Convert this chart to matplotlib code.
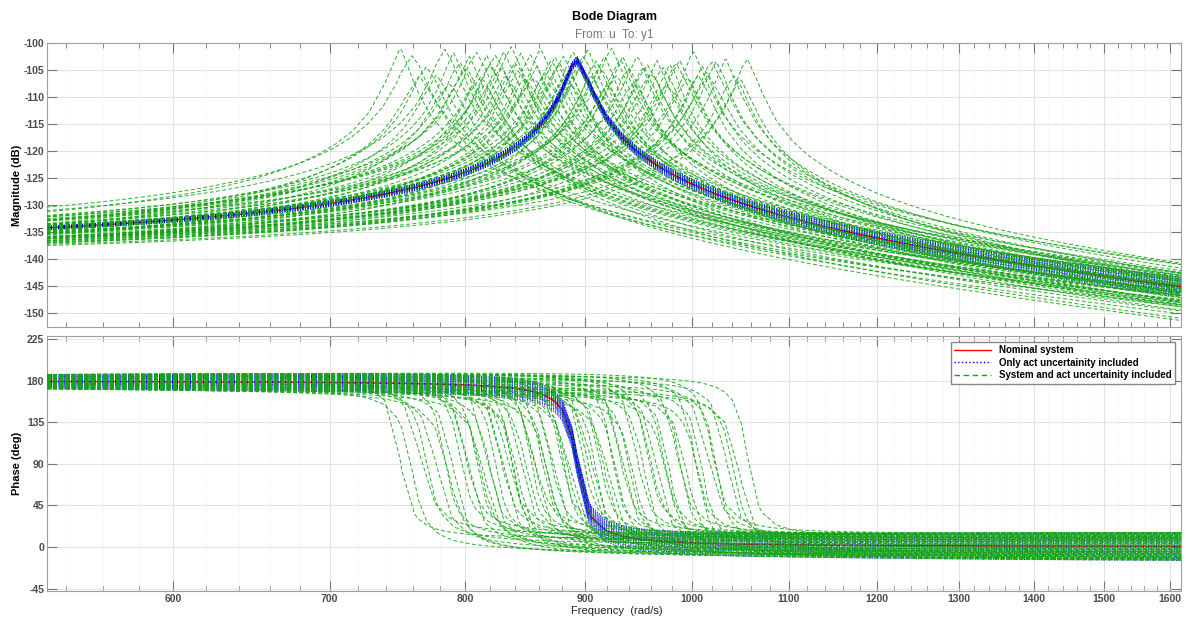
import numpy as np
import matplotlib.pyplot as plt
from matplotlib.ticker import FixedLocator, NullFormatter

plt.rcParams['font.family'] = ['Liberation Sans', 'DejaVu Sans']
plt.rcParams['axes.unicode_minus'] = False

# nominal plant: lightly damped mode seen from u to y1
nom_w0 = 893.0
nom_dc_db = -138.0
nom_peak_db = -103.2

# actuator lead/lag corner (rad/s); skew r > 1 gives lead, r < 1 gives lag
act_wc = 2000.0
act_only_r = [0.76, 0.79, 0.82, 0.85, 0.88, 0.90, 0.93, 0.95, 0.98, 1.00,
              1.02, 1.05, 1.08, 1.11, 1.14, 1.17, 1.20, 1.23, 1.27, 1.30]

# uncertain plant + actuator samples
sys_w0 = [750, 759, 770, 778, 784, 791, 796, 803, 809, 812,
          817, 820, 824, 828, 831, 837, 842, 845, 849, 853,
          858, 862, 866, 870, 874, 881, 885, 890, 895, 902,
          906, 910, 913, 917, 924, 928, 934, 940, 947, 954,
          960, 966, 972, 978, 988, 995, 1002, 1010, 1016, 1024,
          1034, 1042, 1056,
          765, 787, 800, 815, 833, 840, 855, 868, 878, 888,
          898, 921, 931, 944, 957, 975, 985, 1006, 1020, 1048]
sys_peak_db = [-101.5, -102.0, -104.5, -105.8, -101.5, -101.4, -104.2, -102.4, -102.0, -106.0,
               -102.7, -103.8, -102.4, -105.2, -101.4, -101.0, -104.6, -102.1, -106.5, -102.7,
               -104.0, -101.6, -105.5, -103.9, -102.1, -102.7, -105.0, -102.4, -104.3, -101.8,
               -106.2, -102.7, -104.8, -102.4, -101.5, -105.6, -102.7, -104.4, -103.3, -103.9,
               -106.0, -103.0, -105.1, -103.6, -103.3, -105.8, -102.4, -103.9, -106.4, -103.3,
               -103.3, -105.5, -103.6,
               -106.8, -107.0, -105.5, -107.2, -106.8, -103.0, -107.3, -106.8, -104.6, -107.0,
               -103.2, -107.1, -104.0, -106.6, -104.9, -107.0, -104.7, -105.0, -104.5, -106.0]
sys_dc_db = [-137.5, -136.0, -138.5, -139.0, -136.5, -137.0, -138.2, -137.6, -136.9, -139.3,
             -137.8, -138.0, -137.2, -139.2, -136.6, -136.8, -138.8, -137.4, -139.5, -138.0,
             -138.6, -137.0, -139.4, -138.3, -137.5, -138.1, -139.0, -137.9, -138.7, -137.6,
             -139.6, -138.2, -139.1, -138.0, -137.4, -139.5, -138.3, -139.0, -138.6, -139.0,
             -139.6, -138.5, -139.4, -138.9, -138.8, -139.7, -138.2, -139.2, -139.8, -138.9,
             -139.0, -139.7, -139.3,
             -139.4, -139.5, -138.9, -139.8, -139.6, -137.7, -139.8, -139.7, -138.8, -139.8,
             -138.0, -139.8, -138.7, -139.7, -139.3, -139.8, -139.2, -139.4, -139.2, -139.8]
sys_act_r = [1.20, 0.85, 1.05, 0.90, 1.15, 0.82, 1.22, 0.95, 1.10, 0.88,
             1.18, 0.84, 1.03, 1.24, 0.92, 1.12, 0.81, 1.07, 0.97, 1.21,
             0.86, 1.14, 0.94, 1.19, 0.83, 1.09, 0.90, 1.23, 0.87, 1.16,
             0.99, 0.82, 1.13, 0.95, 1.20, 0.86, 1.06, 0.91, 1.25, 0.84,
             1.11, 0.93, 1.17, 0.88, 1.02, 0.81, 1.22, 0.89, 1.15, 0.96,
             1.08, 0.85, 1.18,
             1.28, 0.78, 1.30, 0.77, 1.27, 0.79, 1.29, 0.76, 1.31, 0.80,
             1.26, 0.78, 1.30, 0.77, 1.28, 0.79, 1.27, 0.76, 1.29, 0.80]

freq_ticks = [600, 700, 800, 900, 1000, 1100, 1200, 1300, 1400, 1500, 1600]
mag_ticks = [-150, -145, -140, -135, -130, -125, -120, -115, -110, -105, -100]
phase_ticks = [-45, 0, 45, 90, 135, 180, 225]

w_lo, w_hi = 530, 1618
base_w = np.geomspace(520, 1650, 70)


def response(w0, dc_db, peak_db, r):
    # frequency grid refined around the resonance, like bode's adaptive grid
    w = np.union1d(base_w, w0 * (1 + 0.0147 * np.arange(-4, 5)))
    zeta = 0.5 * 10 ** ((dc_db - peak_db) / 20)
    k = 10 ** (dc_db / 20)
    s = 1j * w
    h = -k * w0 ** 2 / (s ** 2 + 2 * zeta * w0 * s + w0 ** 2)
    h = h * (s * r / act_wc + 1) / (s / (act_wc * r) + 1)
    mag = 20 * np.log10(np.abs(h))
    ph = np.degrees(np.unwrap(np.angle(h)))
    ph -= 360 * np.round((ph[0] - 180) / 360)
    return w, mag, ph


fig = plt.figure(figsize=(11.88, 6.19), dpi=100)
ax1 = fig.add_axes([47 / 1188, 1 - 327 / 619, 1134 / 1188, 284 / 619])
ax2 = fig.add_axes([47 / 1188, 1 - 591 / 619, 1134 / 1188, 255 / 619])

green = '#16a516'

# nominal
w, m, p = response(nom_w0, nom_dc_db, nom_peak_db, 1.0)
ax1.plot(w, m, color='red', lw=1.1, zorder=3)
ax2.plot(w, p, color='red', lw=1.1, zorder=3, label='Nominal system')

# actuator uncertainty only
for i, r in enumerate(act_only_r):
    w, m, p = response(nom_w0, nom_dc_db, nom_peak_db, r)
    ax1.plot(w, m, color='blue', lw=0.7, ls=':', zorder=4)
    ax2.plot(w, p, color='blue', lw=0.7, ls=':', zorder=4,
             label='Only act uncertainity included' if i == 0 else None)

# plant and actuator uncertainty
for i in range(len(sys_w0)):
    w, m, p = response(sys_w0[i], sys_dc_db[i], sys_peak_db[i], sys_act_r[i])
    ax1.plot(w, m, color=green, lw=0.7, ls=(0, (4, 2.5)), alpha=0.9, zorder=5)
    ax2.plot(w, p, color=green, lw=0.7, ls=(0, (4, 2.5)), alpha=0.9, zorder=5,
             label='System and act uncertainity included' if i == 0 else None)

minor_w = [f for f in range(540, 1620, 20) if f % 100 != 0]
for ax in (ax1, ax2):
    ax.set_xscale('log')
    ax.set_xlim(w_lo, w_hi)
    ax.xaxis.set_major_locator(FixedLocator(freq_ticks))
    ax.xaxis.set_minor_locator(FixedLocator(minor_w))
    ax.xaxis.set_minor_formatter(NullFormatter())
    ax.grid(True, which='major', color='#e3e3e3', lw=0.8, zorder=0)
    ax.grid(True, which='minor', axis='x', color='#ececec', lw=0.6, ls=':', zorder=0)
    ax.tick_params(which='both', direction='in', top=True, right=True,
                   colors='#777777', labelcolor='#4a4a4a', labelsize=7.5)
    ax.tick_params(which='major', length=7)
    ax.tick_params(which='minor', length=3.5)
    ax.tick_params(axis='x', pad=2)
    ax.tick_params(axis='y', pad=2)
    for sp in ax.spines.values():
        sp.set_color('#a0a0a0')
        sp.set_linewidth(0.8)

ax1.set_ylim(-152.6, -100)
ax1.set_yticks(mag_ticks)
ax1.set_xticklabels([])
ax1.set_ylabel('Magnitude (dB)', fontsize=8, fontweight='bold')
ax1.yaxis.set_label_coords(-25 / 1134, 0.5)

ax2.set_ylim(-47.5, 228.2)
ax2.set_yticks(phase_ticks)
ax2.set_xticklabels([str(f) for f in freq_ticks])
ax2.set_ylabel('Phase (deg)', fontsize=8, fontweight='bold')
ax2.yaxis.set_label_coords(-25 / 1134, 0.5)
for ax in (ax1, ax2):
    for lbl in ax.get_yticklabels() + ax.get_xticklabels():
        lbl.set_fontweight('bold')

leg = ax2.legend(loc='upper right', prop={'weight': 'bold', 'size': 7},
                 frameon=True, fancybox=False, edgecolor='#888888', framealpha=1,
                 borderaxespad=0.6, handlelength=3.8, labelspacing=0.25, borderpad=0.35)
for line in leg.get_lines():
    line.set_linewidth(1.0)
    line.set_alpha(1.0)

fig.text(0.517, 1 - 17 / 619, 'Bode Diagram', ha='center', va='center',
         fontsize=9, fontweight='bold')
fig.text(0.517, 1 - 35 / 619, 'From: u  To: y1', ha='center', va='center',
         fontsize=8.5, color='#777777')
fig.text(617 / 1188, 1 - 611 / 619, 'Frequency  (rad/s)', ha='center', va='center',
         fontsize=8, color='#222222')

fig.savefig('out.png', dpi=100)
